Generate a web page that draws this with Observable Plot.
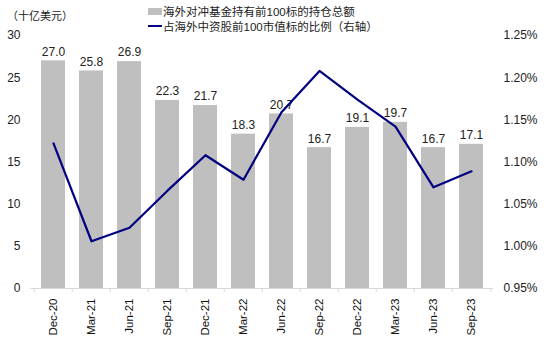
<!DOCTYPE html>
<html>
<head>
<meta charset="utf-8">
<script src="https://cdn.jsdelivr.net/npm/d3@7"></script>
<script src="https://cdn.jsdelivr.net/npm/@observablehq/plot@0.6"></script>
<style>
  html, body { margin: 0; padding: 0; background: #fff; }
  #wrap { position: relative; width: 550px; height: 339px; font-family: "Liberation Sans", Arial, "Noto Sans CJK SC", sans-serif; }
  .cjk { font-family: "Liberation Sans", Arial, "Noto Sans CJK SC", sans-serif; }
  #unit { position: absolute; left: 7px; top: 7px; font-size: 11px; color: #222; }
  .leg { position: absolute; left: 148px; font-size: 11.5px; color: #222; display: flex; align-items: center; white-space: nowrap; }
  .sw-bar { width: 14px; height: 7px; background: #BFBFBF; margin-right: 1px; }
  .sw-line { width: 14px; height: 2.5px; background: #000080; margin-right: 1px; }
</style>
</head>
<body>
<div id="wrap">
  <div id="unit" class="cjk">（十亿美元）</div>
  <div class="leg cjk" style="top:3px"><span class="sw-bar"></span>海外对冲基金持有前100标的持仓总额</div>
  <div class="leg cjk" style="top:18px"><span class="sw-line"></span>占海外中资股前100市值标的比例（右轴）</div>
  <div id="chart"></div>
</div>
<script>
const quarters = ["Dec-20","Mar-21","Jun-21","Sep-21","Dec-21","Mar-22","Jun-22","Sep-22","Dec-22","Mar-23","Jun-23","Sep-23"];
const holdings = [27.0, 25.8, 26.9, 22.3, 21.7, 18.3, 20.7, 16.7, 19.1, 19.7, 16.7, 17.1];
const sharePct = [1.122, 1.006, 1.022, 1.066, 1.108, 1.079, 1.159, 1.208, 1.174, 1.142, 1.070, 1.089];
const leftTicks = [0, 5, 10, 15, 20, 25, 30];
const rightTicks = [0.95, 1.00, 1.05, 1.10, 1.15, 1.20, 1.25];

const L = {min: 0, max: 30};
const R = {min: 0.95, max: 1.25};
const toLeft = v => (v - R.min) / (R.max - R.min) * (L.max - L.min) + L.min;
const toRight = v => (v - L.min) / (L.max - L.min) * (R.max - R.min) + R.min;

const data = quarters.map((q, i) => ({q, h: holdings[i], s: sharePct[i], sl: toLeft(sharePct[i])}));

const W = 550, H = 339, mL = 30, mR = 57, mT = 35, mB = 51;
const step = (W - mL - mR) / quarters.length;

const chart = Plot.plot({
  width: W, height: H,
  marginLeft: mL, marginRight: mR, marginTop: mT, marginBottom: mB,
  style: {fontFamily: "'Liberation Sans', Arial, sans-serif", fontSize: "12px", color: "#222", background: "transparent"},
  x: {domain: quarters, paddingInner: 0.38, paddingOuter: 0.19, align: 0.5},
  y: {domain: [L.min, L.max]},
  marks: [
    Plot.barY(data, {x: "q", y: "h", fill: "#BFBFBF"}),
    Plot.ruleY([0], {stroke: "#D9D9D9", strokeWidth: 1}),
    Plot.ruleX(quarters, {x: d => d, dx: -step / 2, y1: 0, y2: -0.5, stroke: "#D9D9D9"}),
    Plot.ruleX(quarters.slice(-1), {x: d => d, dx: step / 2, y1: 0, y2: -0.5, stroke: "#D9D9D9"}),
    Plot.text(data, {x: "q", y: "h", text: d => d.h.toFixed(1), dy: -9, fontSize: 12, fill: "#222"}),
    Plot.line(data, {x: "q", y: "sl", stroke: "#000080", strokeWidth: 2.2}),
    Plot.axisY(leftTicks, {anchor: "left", tickSize: 0, tickPadding: 10, fontSize: 12, label: null}),
    Plot.axisY(rightTicks.map(toLeft), {anchor: "right", tickSize: 0, tickPadding: 10, fontSize: 12, label: null,
      tickFormat: d => toRight(d).toFixed(2) + "%", textAnchor: "start"}),
    Plot.axisX({tickSize: 0, tickPadding: 10, tickRotate: -90, fontSize: 11.5, fill: "#111", label: null})
  ]
});
document.getElementById("chart").appendChild(chart);
</script>
</body>
</html>
